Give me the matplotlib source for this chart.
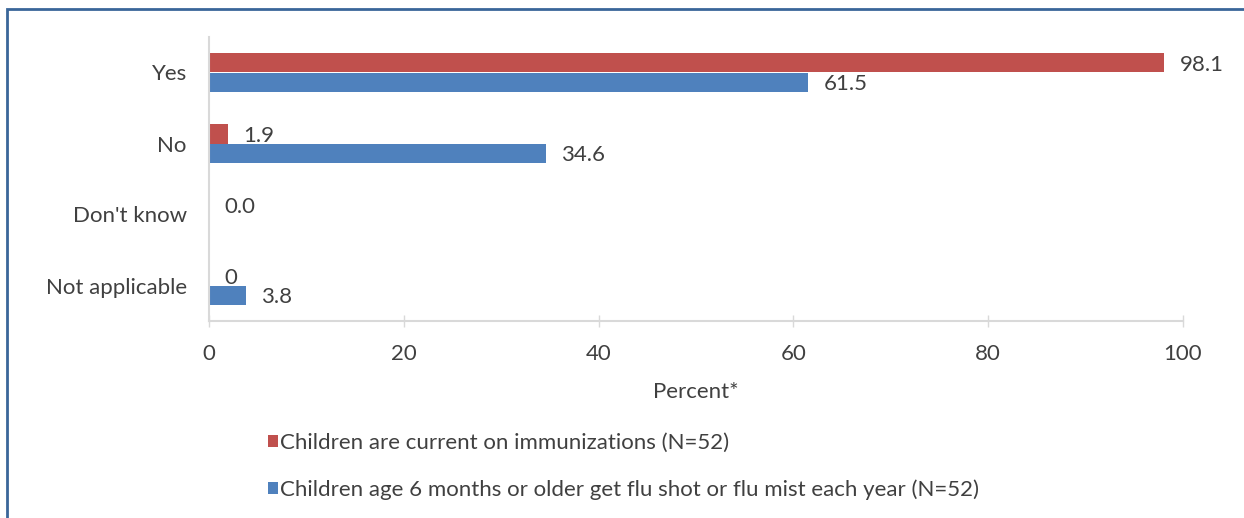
import matplotlib
matplotlib.use("Agg")
import matplotlib.pyplot as plt
from matplotlib.patches import Patch, Rectangle
import numpy as np

plt.rcParams['font.family'] = ['Lato', 'DejaVu Sans']

# Survey responses (percent)
categories = ["Yes", "No", "Don't know", "Not applicable"]
immunization_pct = [98.1, 1.9, 0.0, 0.0]
flu_pct = [61.5, 34.6, 0.0, 3.8]
immunization_labels = ["98.1", "1.9", "0.0", "0"]
flu_labels = ["61.5", "34.6", "", "3.8"]
series_names = [
    "Children are current on immunizations (N=52)",
    "Children age 6 months or older get flu shot or flu mist each year (N=52)",
]
x_ticks = [0, 20, 40, 60, 80, 100]

RED = "#C0504D"
BLUE = "#4F81BD"
TEXT = "#404040"
GRID = "#D9D9D9"
FS = 16

fig = plt.figure(figsize=(12.44, 5.18), dpi=100)
ax = fig.add_axes([209 / 1244, 1 - 321 / 518, (1183 - 209) / 1244, (321 - 37) / 518])

y = np.arange(len(categories))
h = 0.27
ax.barh(y - h / 2, immunization_pct, height=h, color=RED, label=series_names[0])
ax.barh(y + h / 2, flu_pct, height=h, color=BLUE, label=series_names[1])

for yi, v, s in zip(y - h / 2, immunization_pct, immunization_labels):
    if s:
        ax.annotate(s, (v, yi), xytext=(11, -1.5), textcoords="offset points",
                    va="center", ha="left", fontsize=FS, color=TEXT)
for yi, v, s in zip(y + h / 2, flu_pct, flu_labels):
    if s:
        ax.annotate(s, (v, yi), xytext=(11, -1.5), textcoords="offset points",
                    va="center", ha="left", fontsize=FS, color=TEXT)

ax.set_xlim(0, 100)
ax.set_ylim(len(categories) - 0.5, -0.5)
ax.set_yticks(y)
ax.set_yticklabels(categories, fontsize=FS, color=TEXT)
ax.set_xticks(x_ticks)
ax.set_xticklabels([str(t) for t in x_ticks], fontsize=FS, color=TEXT)
ax.tick_params(axis="y", length=0, pad=16)
ax.tick_params(axis="x", direction="inout", length=9, width=1, color=GRID, pad=12)
ax.set_xlabel("Percent*", fontsize=FS, color=TEXT, labelpad=13)

for side in ("top", "right"):
    ax.spines[side].set_visible(False)
for side in ("left", "bottom"):
    ax.spines[side].set_color(GRID)
    ax.spines[side].set_linewidth(1.5)

handles = [Patch(facecolor=RED), Patch(facecolor=BLUE)]
fig.legend(handles, series_names, loc="upper left",
           bbox_to_anchor=(257 / 1244, 1 - 422 / 518), frameon=False,
           fontsize=FS, handlelength=0.45, handleheight=0.45, handletextpad=0.1,
           labelspacing=1.2, labelcolor=TEXT, borderpad=0)

# Frame around the chart area
fig.add_artist(Rectangle((7 / 1244, -0.1), 1.2, 1 - 9 / 518 + 0.1,
                         transform=fig.transFigure, fill=False,
                         edgecolor="#3A6699", linewidth=2))

fig.savefig("out.png", dpi=100)
